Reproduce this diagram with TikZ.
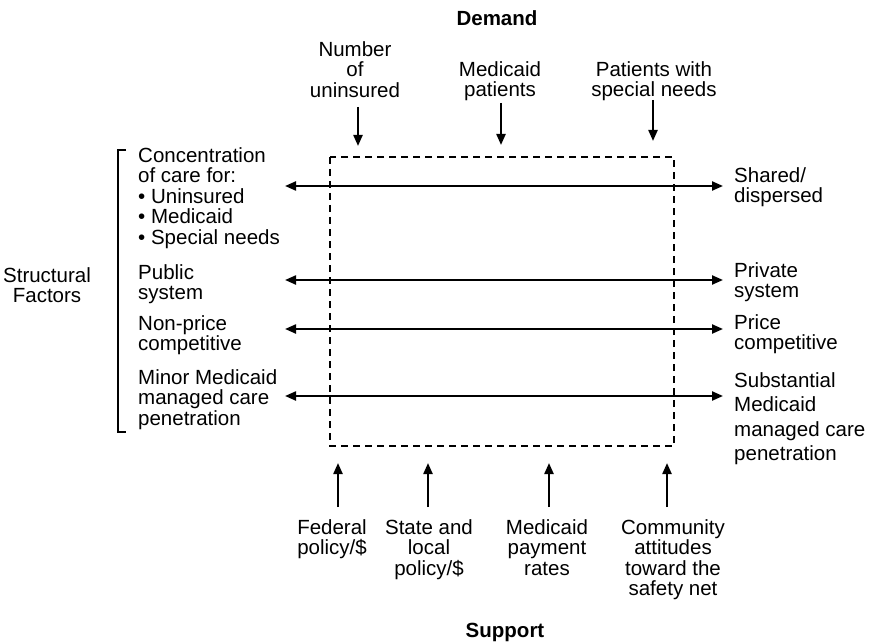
\documentclass[tikz,border=0pt]{standalone}
\usepackage{fontspec}
\setmainfont{Liberation Sans}
\usetikzlibrary{arrows.meta}
\begin{document}
\begin{tikzpicture}[x=1pt,y=-1pt,
  lbl/.style={inner sep=0pt,font=\fontsize{20.5}{20.5}\selectfont},
  lblwide/.style={inner sep=0pt,font=\fontsize{20.5}{24.5}\selectfont},
  ttl/.style={inner sep=0pt,font=\fontsize{20.5}{20.5}\selectfont\bfseries},
  arr/.style={line width=2.2pt,-{Triangle[length=11pt,width=9pt]}},
  darr/.style={line width=2.2pt,{Triangle[length=11pt,width=9pt]}-{Triangle[length=11pt,width=9pt]}},
  dbox/.style={line width=2.2pt,dash pattern=on 7pt off 5pt},
  brk/.style={line width=2.2pt}]
\useasboundingbox (0,0) rectangle (874,644);

% titles
\node[ttl,anchor=north] (demand) at (497,10) {Demand};
\node[ttl,anchor=north] (support) at (505,623) {Support};

% dashed box
\coordinate (bnw) at (330,157);
\coordinate (bse) at (674,446);
\draw[dbox] (bnw) rectangle (bse);

% demand labels
\node[lbl,anchor=north,align=center] (num) at (355,41) {Number\\of\\uninsured};
\node[lbl,anchor=north,align=center] (med) at (500,61) {Medicaid\\patients};
\node[lbl,anchor=north,align=center] (spec) at (654,61) {Patients with\\special needs};
\coordinate (num1) at (358,107); \coordinate (num2) at (358,146);
\coordinate (med1) at (501,103); \coordinate (med2) at (501,145);
\coordinate (spec1) at (653,100); \coordinate (spec2) at (653,141);
\draw[arr] (num1) -- (num2);
\draw[arr] (med1) -- (med2);
\draw[arr] (spec1) -- (spec2);

% left structural labels
\node[lbl,anchor=north,align=center] (sf) at (47,267) {Structural\\Factors};
\coordinate (bt) at (126,150); \coordinate (bb) at (126,432);
\draw[brk] (bt) -- ++(-8,0) |- (bb);

\node[lbl,anchor=north west,align=left] (l1) at (138,147) {Concentration\\of care for:\\• Uninsured\\• Medicaid\\• Special needs};
\node[lbl,anchor=north west,align=left] (l2) at (138,264) {Public\\system};
\node[lbl,anchor=north west,align=left] (l3) at (138,315) {Non-price\\competitive};
\node[lbl,anchor=north west,align=left] (l4) at (138,369) {Minor Medicaid\\managed care\\penetration};

\node[lbl,anchor=north west,align=left] (r1) at (734,167) {Shared/\\dispersed};
\node[lbl,anchor=north west,align=left] (r2) at (734,262) {Private\\system};
\node[lbl,anchor=north west,align=left] (r3) at (734,314) {Price\\competitive};
\node[lblwide,anchor=north west,align=left] (r4) at (734,372) {Substantial\\Medicaid\\managed care\\penetration};

\coordinate (a1l) at (285,186); \coordinate (a1r) at (723,186);
\coordinate (a2l) at (285,280); \coordinate (a2r) at (723,280);
\coordinate (a3l) at (285,329); \coordinate (a3r) at (723,329);
\coordinate (a4l) at (285,396); \coordinate (a4r) at (723,396);
\draw[darr] (a1l) -- (a1r);
\draw[darr] (a2l) -- (a2r);
\draw[darr] (a3l) -- (a3r);
\draw[darr] (a4l) -- (a4r);

% support labels
\node[lbl,anchor=north,align=center] (fed) at (332,519) {Federal\\policy/\$};
\node[lbl,anchor=north,align=center] (state) at (429,519) {State and\\local\\policy/\$};
\node[lbl,anchor=north,align=center] (mpay) at (547,519) {Medicaid\\payment\\rates};
\node[lbl,anchor=north,align=center] (comm) at (673,519) {Community\\attitudes\\toward the\\safety net};
\coordinate (f1) at (338,507); \coordinate (f2) at (338,463);
\coordinate (s1) at (428,507); \coordinate (s2) at (428,463);
\coordinate (m1) at (549,507); \coordinate (m2) at (549,463);
\coordinate (c1) at (667,507); \coordinate (c2) at (667,463);
\draw[arr] (f1) -- (f2);
\draw[arr] (s1) -- (s2);
\draw[arr] (m1) -- (m2);
\draw[arr] (c1) -- (c2);
\end{tikzpicture}
\end{document}
